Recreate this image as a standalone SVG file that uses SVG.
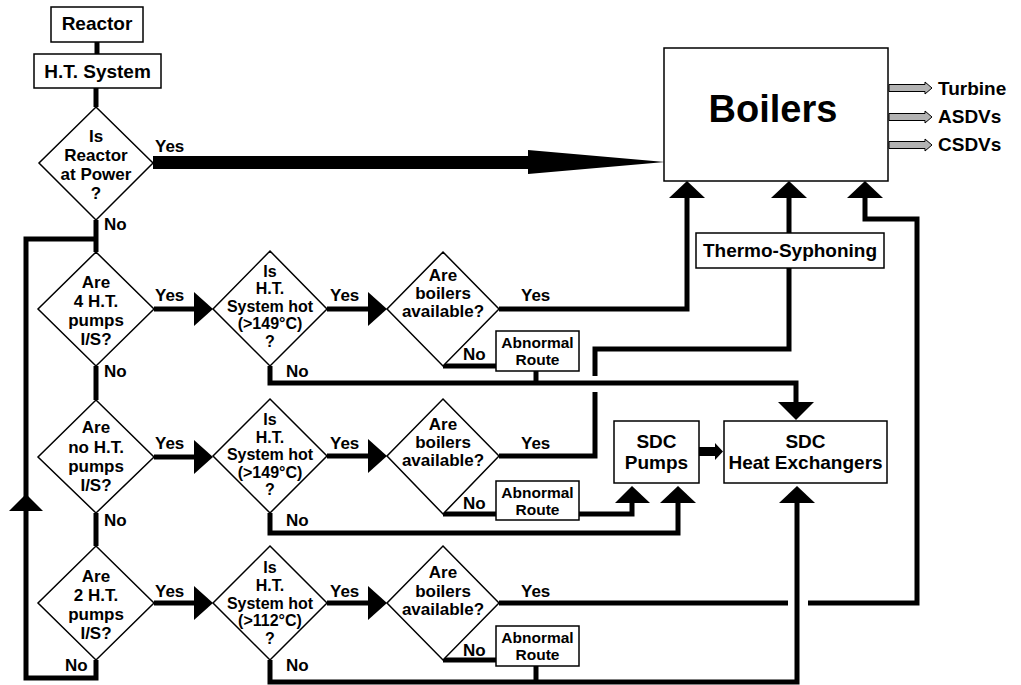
<svg xmlns="http://www.w3.org/2000/svg" width="1021" height="685" viewBox="0 0 1021 685">
<style>
text{font-family:"Liberation Sans",Arial,sans-serif;font-weight:bold;fill:#000;text-anchor:middle}
.box{fill:#fff;stroke:#000;stroke-width:1.5}
.dia{fill:#fff;stroke:#000;stroke-width:1.5}
.t19{font-size:19px}
.t17{font-size:17px}
.t16{font-size:16px}
.t15{font-size:15.5px}
.big{font-size:38px}
.ln{fill:none;stroke:#000;stroke-width:5;stroke-linejoin:miter;stroke-linecap:butt}
.ah{fill:#000;stroke:none}
.out{fill:#b3b3b3;stroke:#000;stroke-width:1}
.lbl{text-anchor:start}
</style>
<rect width="1021" height="685" fill="#fff"/>
<g id="connectors">
<line class="ln" x1="97" y1="42" x2="97" y2="54"/>
<line class="ln" x1="96" y1="88" x2="96" y2="107"/>
<rect class="ah" x="153" y="156" width="376" height="13"/>
<polygon class="ah" points="528,150 665,162 528,174"/>
<line class="ln" x1="96" y1="220" x2="96" y2="252"/>
<line class="ln" x1="96" y1="366" x2="96" y2="400"/>
<line class="ln" x1="96" y1="513" x2="96" y2="546"/>
<path class="ln" d="M96,660 V678 H26 V239 H96"/>
<polygon class="ah" points="26,494 9,511 43,511"/>
<line class="ln" x1="154" y1="309" x2="196" y2="309"/>
<polygon class="ah" points="194,292 213,309 194,326"/>
<line class="ln" x1="154" y1="457" x2="196" y2="457"/>
<polygon class="ah" points="194,440 213,457 194,474"/>
<line class="ln" x1="154" y1="603" x2="196" y2="603"/>
<polygon class="ah" points="194,586 213,603 194,620"/>
<line class="ln" x1="327" y1="309" x2="370" y2="309"/>
<polygon class="ah" points="368,292 387,309 368,326"/>
<line class="ln" x1="327" y1="456" x2="370" y2="456"/>
<polygon class="ah" points="368,439 387,456 368,473"/>
<line class="ln" x1="327" y1="603" x2="370" y2="603"/>
<polygon class="ah" points="368,586 387,603 368,620"/>
<path class="ln" d="M499,309 H687 V196"/>
<polygon class="ah" points="669,198 687,181 705,198"/>
<line class="ln" x1="443" y1="366" x2="496" y2="366"/>
<line class="ln" x1="536" y1="371" x2="536" y2="383"/>
<path class="ln" d="M270,366 V383 H796 V404"/>
<polygon class="ah" points="778,402 796,420 814,402"/>
<path class="ln" d="M499,456 H595 V392"/>
<path class="ln" d="M595,376 V349 H789 V268"/>
<line class="ln" x1="789" y1="233" x2="789" y2="196"/>
<polygon class="ah" points="771,198 789,181 807,198"/>
<line class="ln" x1="443" y1="514" x2="496" y2="514"/>
<path class="ln" d="M579,514 H632 V501"/>
<polygon class="ah" points="615,503 632,486 650,503"/>
<path class="ln" d="M270,513 V533 H678 V501"/>
<polygon class="ah" points="660,503 678,486 696,503"/>
<polygon class="ah" points="699,447 715,447 715,443 723,451.5 715,460 715,456 699,456"/>
<line class="ln" x1="499" y1="603" x2="788" y2="603"/>
<path class="ln" d="M808,603 H917 V219 H865 V196"/>
<polygon class="ah" points="847,198 865,181 883,198"/>
<line class="ln" x1="443" y1="660" x2="496" y2="660"/>
<line class="ln" x1="536" y1="666" x2="536" y2="682"/>
<path class="ln" d="M270,660 V682 H797 V501"/>
<polygon class="ah" points="779,503 797,486 815,503"/>
<polygon class="out" points="889,84.5 925,84.5 925,82 932,88 925,94 925,91.5 889,91.5"/>
<polygon class="out" points="889,113.5 925,113.5 925,111 932,117 925,123 925,120.5 889,120.5"/>
<polygon class="out" points="889,141.5 925,141.5 925,139 932,145 925,151 925,148.5 889,148.5"/>
</g>
<g id="reactor"><rect class="box" x="51" y="7" width="92" height="35"/><text class="t19" x="97" y="30">Reactor</text></g>
<g id="ht-system"><rect class="box" x="34" y="54" width="127" height="34"/><text class="t19" x="97.5" y="78">H.T. System</text></g>
<g id="q-reactor-power"><polygon class="dia" points="96,107 153,163 96,220 39,163"/>
<text class="t17" x="96" y="142">Is</text><text class="t17" x="96" y="161">Reactor</text><text class="t17" x="96" y="180">at Power</text><text class="t17" x="96" y="199">?</text></g>
<g id="boilers"><rect class="box" x="664" y="48" width="224" height="133"/><text class="big" x="773" y="122">Boilers</text></g>
<g id="q-4pumps"><polygon class="dia" points="96,252 154,309 96,366 38,309"/>
<text class="t17" x="96" y="288">Are</text><text class="t17" x="96" y="307">4 H.T.</text><text class="t17" x="96" y="326">pumps</text><text class="t17" x="96" y="345">I/S?</text></g>
<g id="q-hot1"><polygon class="dia" points="270,251 327,309 270,366 213,309"/>
<text class="t16" x="270" y="277">Is</text><text class="t16" x="270" y="294">H.T.</text><text class="t16" x="270" y="312">System hot</text><text class="t16" x="270" y="329">(&gt;149°C)</text><text class="t16" x="270" y="347">?</text></g>
<g id="q-boilers1"><polygon class="dia" points="443,252 499,309 443,366 387,309"/>
<text class="t17" x="443" y="281">Are</text><text class="t17" x="443" y="299">boilers</text><text class="t17" x="443" y="317">available?</text></g>
<g id="abnormal1"><rect class="box" x="496" y="331" width="83" height="40"/><text class="t15" x="537.5" y="348">Abnormal</text><text class="t15" x="537.5" y="365">Route</text></g>
<g id="q-nopumps"><polygon class="dia" points="96,400 154,457 96,513 38,457"/>
<text class="t17" x="96" y="433">Are</text><text class="t17" x="96" y="453">no H.T.</text><text class="t17" x="96" y="472">pumps</text><text class="t17" x="96" y="491">I/S?</text></g>
<g id="q-hot2"><polygon class="dia" points="270,399 327,456 270,513 213,456"/>
<text class="t16" x="270" y="425">Is</text><text class="t16" x="270" y="443">H.T.</text><text class="t16" x="270" y="460">System hot</text><text class="t16" x="270" y="478">(&gt;149°C)</text><text class="t16" x="270" y="495">?</text></g>
<g id="q-boilers2"><polygon class="dia" points="443,399 499,456 443,514 387,456"/>
<text class="t17" x="443" y="430">Are</text><text class="t17" x="443" y="448">boilers</text><text class="t17" x="443" y="466">available?</text></g>
<g id="abnormal2"><rect class="box" x="496" y="481" width="83" height="39"/><text class="t15" x="537.5" y="498">Abnormal</text><text class="t15" x="537.5" y="515">Route</text></g>
<g id="q-2pumps"><polygon class="dia" points="96,546 154,603 96,660 38,603"/>
<text class="t17" x="96" y="582">Are</text><text class="t17" x="96" y="601">2 H.T.</text><text class="t17" x="96" y="620">pumps</text><text class="t17" x="96" y="639">I/S?</text></g>
<g id="q-hot3"><polygon class="dia" points="270,546 327,603 270,660 213,603"/>
<text class="t16" x="270" y="573">Is</text><text class="t16" x="270" y="591">H.T.</text><text class="t16" x="270" y="609">System hot</text><text class="t16" x="270" y="626">(&gt;112°C)</text><text class="t16" x="270" y="644">?</text></g>
<g id="q-boilers3"><polygon class="dia" points="443,546 499,603 443,660 387,603"/>
<text class="t17" x="443" y="578">Are</text><text class="t17" x="443" y="597">boilers</text><text class="t17" x="443" y="615">available?</text></g>
<g id="abnormal3"><rect class="box" x="496" y="626" width="83" height="40"/><text class="t15" x="537.5" y="643">Abnormal</text><text class="t15" x="537.5" y="660">Route</text></g>
<g id="thermo"><rect class="box" x="696" y="233" width="188" height="35"/><text class="t19" x="790" y="257">Thermo-Syphoning</text></g>
<g id="sdc-pumps"><rect class="box" x="614" y="421" width="85" height="62"/><text class="t19" x="656.5" y="448">SDC</text><text class="t19" x="656.5" y="469">Pumps</text></g>
<g id="sdc-hx"><rect class="box" x="724" y="421" width="163" height="62"/><text class="t19" x="805.5" y="448">SDC</text><text class="t19" x="805.5" y="469">Heat Exchangers</text></g>
<g id="labels">
<text class="t17 lbl" x="155" y="152">Yes</text>
<text class="t17 lbl" x="104" y="230">No</text>
<text class="t17 lbl" x="155" y="301">Yes</text>
<text class="t17 lbl" x="330" y="301">Yes</text>
<text class="t17 lbl" x="521" y="301">Yes</text>
<text class="t17 lbl" x="104" y="377">No</text>
<text class="t17 lbl" x="286" y="377">No</text>
<text class="t17 lbl" x="463" y="360">No</text>
<text class="t17 lbl" x="155" y="449">Yes</text>
<text class="t17 lbl" x="330" y="449">Yes</text>
<text class="t17 lbl" x="521" y="449">Yes</text>
<text class="t17 lbl" x="104" y="526">No</text>
<text class="t17 lbl" x="286" y="526">No</text>
<text class="t17 lbl" x="463" y="509">No</text>
<text class="t17 lbl" x="155" y="597">Yes</text>
<text class="t17 lbl" x="330" y="597">Yes</text>
<text class="t17 lbl" x="521" y="597">Yes</text>
<text class="t17 lbl" x="65" y="671">No</text>
<text class="t17 lbl" x="286" y="671">No</text>
<text class="t17 lbl" x="463" y="656">No</text>
<text class="t19 lbl" x="938" y="95">Turbine</text>
<text class="t19 lbl" x="938" y="123">ASDVs</text>
<text class="t19 lbl" x="938" y="151">CSDVs</text>
</g>
</svg>
